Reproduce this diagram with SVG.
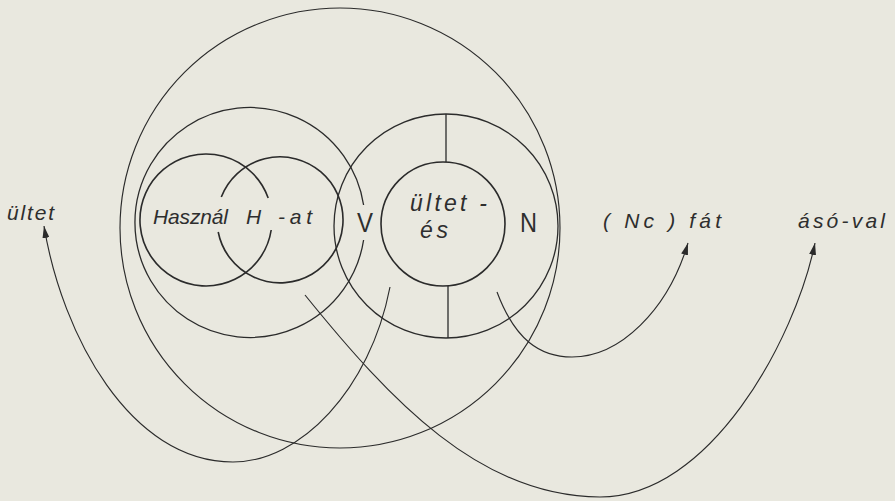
<svg xmlns="http://www.w3.org/2000/svg" width="895" height="501" viewBox="0 0 895 501">
<style>
.c{fill:none;stroke:#2b2b2b;stroke-width:1.3}
.k{fill:none;stroke:#2b2b2b;stroke-width:1.6}
.e{fill:none;stroke:#2b2b2b;stroke-width:1.15}
.t{font-family:"Liberation Sans",Arial,sans-serif;font-style:italic;font-size:21px;fill:#2e2e2e}
.u{font-family:"Liberation Sans",Arial,sans-serif;font-size:28px;fill:#2e2e2e}
</style>
<defs>
<marker id="ah" viewBox="0 0 12 7" refX="12" refY="3.5" markerWidth="12" markerHeight="7" markerUnits="userSpaceOnUse" orient="auto">
<path d="M0,0 L12,3.5 L0,7 z" fill="#2b2b2b"/>
</marker>
</defs>
<rect x="0" y="0" width="895" height="501" fill="#e9e8df"/>

<g id="outer-circle"><circle cx="340" cy="228" r="220" class="e"/></g>
<g id="left-frame"><path d="M363.6,205 A115,115 0 1 0 363.6,240" class="c"/></g>
<g id="hasznal">
<path d="M268.2,198 A66,66 0 1 0 271.2,230" class="k"/>
<text x="153" y="224" class="t" textLength="75" lengthAdjust="spacing">Használ</text>
</g>
<g id="h-at">
<path d="M221.3,197 A63,63 0 1 1 218.2,232" class="k"/>
<text x="246" y="224" class="t">H</text>
<text x="278" y="224" class="t" textLength="34" lengthAdjust="spacing">-at</text>
</g>
<g id="right-frame">
<circle cx="446" cy="226" r="112" class="c"/>
<line x1="446" y1="114" x2="446" y2="162" class="c"/>
<line x1="448" y1="286" x2="448" y2="338" class="c"/>
</g>
<g id="ultetes">
<circle cx="443" cy="224" r="62" class="k"/>
<text x="410" y="211" class="t" style="font-size:23px" textLength="77" lengthAdjust="spacing">ültet -</text>
<text x="420" y="238" class="t" style="font-size:23px" textLength="28" lengthAdjust="spacing">és</text>
</g>
<g id="V"><text x="357" y="232" class="u" textLength="16" lengthAdjust="spacingAndGlyphs">V</text></g>
<g id="N"><text x="520" y="232" class="u" textLength="17" lengthAdjust="spacingAndGlyphs">N</text></g>
<g id="ultet"><text x="7" y="220" class="t" textLength="47" lengthAdjust="spacing">ültet</text></g>
<g id="nc-fat"><text x="603" y="228" class="t" textLength="118" lengthAdjust="spacing">( Nc ) fát</text></g>
<g id="aso-val"><text x="798" y="228" class="t" textLength="87" lengthAdjust="spacing">ásó-val</text></g>

<g id="connectors">
<path d="M390,287 C370,390 300,462 233,462 C130,462 62,335 44,226" class="e" marker-end="url(#ah)"/>
<path d="M497,292 C515,340 540,357 572,357 C620,357 668,310 688,243" class="e" marker-end="url(#ah)"/>
<path d="M305,295 C390,400 480,497 600,497 C710,497 795,340 815,243" class="e" marker-end="url(#ah)"/>
</g>
</svg>
